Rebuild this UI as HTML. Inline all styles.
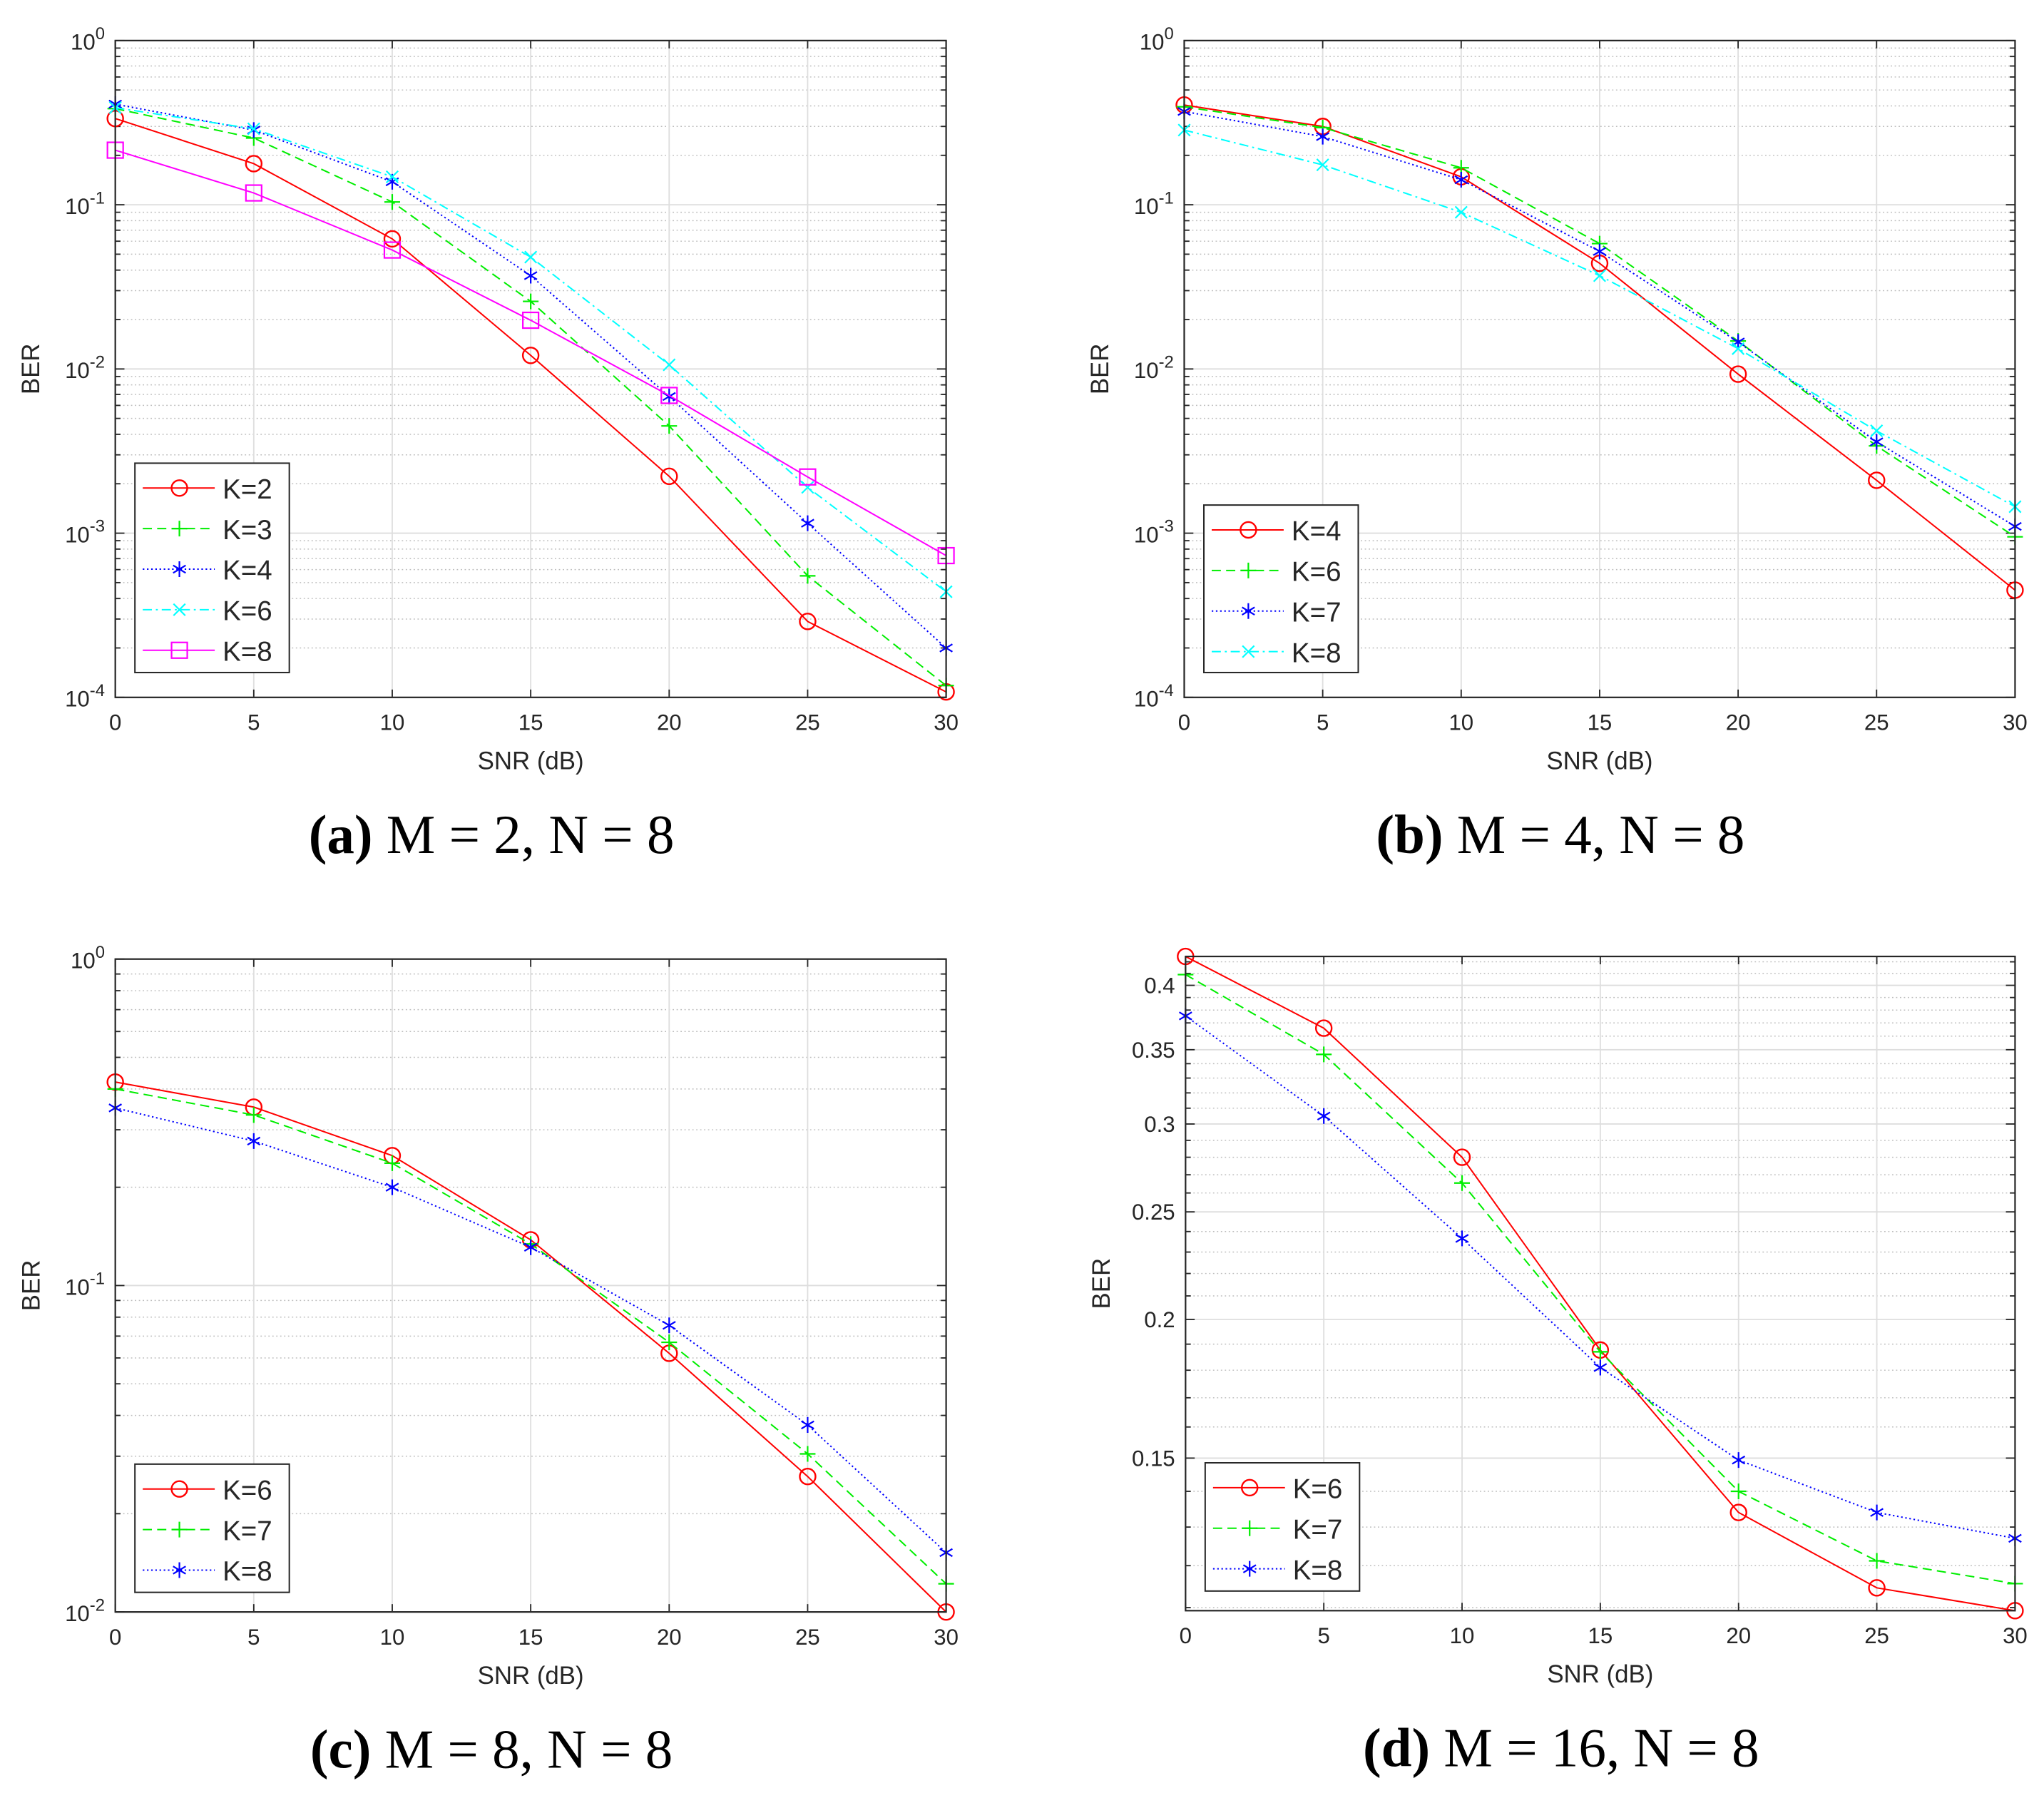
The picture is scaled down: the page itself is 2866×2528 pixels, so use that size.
<!DOCTYPE html>
<html><head><meta charset="utf-8"><style>
html,body{margin:0;padding:0;background:#fff;}
svg{display:block;}
text{font-family:"Liberation Sans",sans-serif;fill:#262626;}
.cap{font-family:"Liberation Serif",serif;fill:#000;}
</style></head><body>
<svg id="fig" width="2866" height="2528" viewBox="0 0 1562 1378" xmlns="http://www.w3.org/2000/svg"></svg>
<script>
const snr = [0,5,10,15,20,25,30];
// panel a (M=2)
const aLabels = ['K=2','K=3','K=4','K=6','K=8'];
const aK2 = [0.335,0.178,0.062,0.0121,0.00222,0.00029,0.000108];
const aK3 = [0.385,0.255,0.104,0.0258,0.0045,0.00055,0.000118];
const aK4 = [0.41,0.285,0.138,0.037,0.0068,0.00115,0.0002];
const aK6 = [0.39,0.29,0.148,0.048,0.0106,0.0019,0.00044];
const aK8 = [0.215,0.118,0.053,0.0198,0.0069,0.0022,0.00073];
// panel b (M=4)
const bLabels = ['K=4','K=6','K=7','K=8'];
const bK4 = [0.405,0.3,0.148,0.044,0.0093,0.0021,0.00045];
const bK6 = [0.395,0.295,0.168,0.058,0.0148,0.0034,0.00095];
const bK7 = [0.37,0.26,0.142,0.052,0.0146,0.0036,0.0011];
const bK8 = [0.285,0.175,0.09,0.037,0.0133,0.0042,0.00145];
// panel c (M=8)
const cLabels = ['K=6','K=7','K=8'];
const cK6 = [0.42,0.352,0.25,0.138,0.062,0.026,0.01];
const cK7 = [0.4,0.333,0.237,0.134,0.067,0.0305,0.0122];
const cK8 = [0.35,0.277,0.2,0.131,0.0755,0.0374,0.0152];
// panel d (M=16)
const dLabels = ['K=6','K=7','K=8'];
const dK6 = [0.4247,0.366,0.28,0.1877,0.134,0.1146,0.1093];
const dK7 = [0.409,0.3466,0.2654,0.187,0.14,0.1212,0.1156];
const dK8 = [0.3754,0.305,0.2366,0.181,0.1494,0.134,0.127];
const dTicks = [0.15,0.2,0.25,0.3,0.35,0.4];
const dTickLabels = ['0.15','0.2','0.25','0.3','0.35','0.4'];
const xTicks = [0,5,10,15,20,25,30];
const captionsBold = ['(a)','(b)','(c)','(d)'];
const captionsRest = [' M = 2, N = 8',' M = 4, N = 8',' M = 8, N = 8',' M = 16, N = 8'];

const NS='http://www.w3.org/2000/svg';
const svg=document.getElementById('fig');
function mk(tag,attrs,parent){const e=document.createElementNS(NS,tag);for(const k in attrs)e.setAttribute(k,attrs[k]);(parent||svg).appendChild(e);return e;}

const styles=[
 {c:'#ff0000',d:'',m:'o'},{c:'#00ee00',d:'7,4',m:'+'},{c:'#0000ff',d:'1.2,2',m:'*'},{c:'#00ffff',d:'7,3,1.5,3',m:'x'},{c:'#ff00ff',d:'',m:'s'}];
const stylesB=[styles[0],styles[1],styles[2],styles[3]];

function marker(g,type,x,y,col){
  const r=6;let e;
  if(type==='o'){e=mk('circle',{cx:x,cy:y,r:r,fill:'none',stroke:col,'stroke-width':1.3},g);}
  else if(type==='s'){e=mk('rect',{x:x-r,y:y-r,width:2*r,height:2*r,fill:'none',stroke:col,'stroke-width':1.2},g);}
  else if(type==='+'){e=mk('path',{d:`M${x-r} ${y}H${x+r}M${x} ${y-r}V${y+r}`,stroke:col,'stroke-width':1.2,fill:'none'},g);}
  else if(type==='x'){const q=r*0.75;e=mk('path',{d:`M${x-q} ${y-q}L${x+q} ${y+q}M${x-q} ${y+q}L${x+q} ${y-q}`,stroke:col,'stroke-width':1.2,fill:'none'},g);}
  else {const q=r*0.8;e=mk('path',{d:`M${x} ${y-r}V${y+r}M${x-q} ${y-q*0.6}L${x+q} ${y+q*0.6}M${x-q} ${y+q*0.6}L${x+q} ${y-q*0.6}`,stroke:col,'stroke-width':1.2,fill:'none'},g);}
  
  
}

function panel(p){
  const g=mk('g',{});
  
  
  const X=v=>p.x0+(v-0)/(30-0)*(p.x1-p.x0);
  const lmin=Math.log10(p.ymin),lmax=Math.log10(p.ymax);
  const Y=v=>p.y1-(Math.log10(v)-lmin)/(lmax-lmin)*(p.y1-p.y0);
  p.minor.forEach(v=>{const y=Y(v);if(y<p.y0-0.5||y>p.y1+0.5)return;
    const l=mk('line',{x1:p.x0,x2:p.x1,y1:y,y2:y,stroke:'#bdbdbd','stroke-width':0.8,'stroke-dasharray':'1,2'},g);
    
    
    mk('line',{x1:p.x0,x2:p.x0+4,y1:y,y2:y,stroke:'#262626','stroke-width':1},g);
    mk('line',{x1:p.x1,x2:p.x1-4,y1:y,y2:y,stroke:'#262626','stroke-width':1},g);
  });
  xTicks.forEach(v=>{const x=X(v);
    const l=mk('line',{x1:x,x2:x,y1:p.y0,y2:p.y1,stroke:'#dedede','stroke-width':1},g);
    
    
    mk('line',{x1:x,x2:x,y1:p.y1,y2:p.y1-6,stroke:'#262626','stroke-width':1},g);
    mk('line',{x1:x,x2:x,y1:p.y0,y2:p.y0+6,stroke:'#262626','stroke-width':1},g);
    const t=mk('text',{x:x,y:p.y1+25,'font-size':17,'text-anchor':'middle'},g);t.textContent=v;
    
    
  });
  p.major.forEach((v,i)=>{const y=Y(v);
    const l=mk('line',{x1:p.x0,x2:p.x1,y1:y,y2:y,stroke:'#dedede','stroke-width':1},g);
    
    
    mk('line',{x1:p.x0,x2:p.x0+7,y1:y,y2:y,stroke:'#262626','stroke-width':1},g);
    mk('line',{x1:p.x1,x2:p.x1-7,y1:y,y2:y,stroke:'#262626','stroke-width':1},g);
    let t;
    if(p.decade){t=mk('text',{x:p.x0-8,y:y+7,'font-size':17,'text-anchor':'end'},g);
      const a=mk('tspan',{},t);a.textContent='10';const b=mk('tspan',{dy:-8,'font-size':13},t);b.textContent=String(Math.round(Math.log10(v)));}
    else{t=mk('text',{x:p.x0-8,y:y+6,'font-size':17,'text-anchor':'end'},g);t.textContent=p.labels[i];}
    
    
  });
  p.series.forEach((s,si)=>{const st=p.styles[si];
    const pts=snr.map((x,i)=>X(x)+','+Y(s[i])).join(' ');
    const pl=mk('polyline',{points:pts,fill:'none',stroke:st.c,'stroke-width':1.1,'stroke-dasharray':st.d},g);
    
    
    snr.forEach((x,i)=>marker(g,st.m,X(x),Y(s[i]),st.c));
  });
  const bx=mk('rect',{x:p.x0,y:p.y0,width:p.x1-p.x0,height:p.y1-p.y0,fill:'none',stroke:'#262626','stroke-width':1.2},g);
  
  
  const xl=mk('text',{x:(p.x0+p.x1)/2,y:p.y1+55,'font-size':19,'text-anchor':'middle'},g);xl.textContent='SNR (dB)';
  
  
  const yc=(p.y0+p.y1)/2, yx=p.x0-58;
  const yl=mk('text',{x:yx,y:yc,'font-size':19,'text-anchor':'middle',transform:`rotate(-90 ${yx} ${yc})`},g);yl.textContent='BER';
  
  
  const L=p.legBox;
  const lg=mk('g',{},g);
  
  
  mk('rect',{x:L.x,y:L.y,width:L.w,height:L.h,fill:'#fff',stroke:'#262626','stroke-width':1.1},lg);
  p.leg.forEach((name,i)=>{const st=p.styles[i];const y=L.y+19+i*31;
    const e=mk('g',{},lg);
    
    
    mk('line',{x1:L.x+6,x2:L.x+61,y1:y,y2:y,stroke:st.c,'stroke-width':1.1,'stroke-dasharray':st.d},e);
    marker(e,st.m,L.x+34,y,st.c);
    const t=mk('text',{x:L.x+67,y:y+8,'font-size':21,fill:'#000'},e);t.textContent=name;
  });
  const c=mk('text',{x:(p.x0+p.x1)/2-30,y:p.y1+119,'font-size':42,'text-anchor':'middle',class:'cap'},g);
  
  
  const b=mk('tspan',{'font-weight':'bold'},c);b.textContent=p.cap[0];
  const r=mk('tspan',{},c);r.textContent=p.cap[1];
}
function decMinor(a,b){const r=[];for(let e=a;e<b;e++)for(let k=2;k<=9;k++)r.push(k*Math.pow(10,e));return r;}
const dMinor=[];for(let k=11;k<=42;k++){if(k%5!==0)dMinor.push(k/100);}

panel({name:'panel-a',x0:88,x1:723,y0:31,y1:533,ymin:1e-4,ymax:1,decade:true,major:[1e-4,1e-3,1e-2,1e-1,1],minor:decMinor(-4,0),
  series:[aK2,aK3,aK4,aK6,aK8],styles:styles,leg:aLabels,legBox:{x:103,y:354,w:118,h:160},cap:[captionsBold[0],captionsRest[0]]});
panel({name:'panel-b',x0:905,x1:1540,y0:31,y1:533,ymin:1e-4,ymax:1,decade:true,major:[1e-4,1e-3,1e-2,1e-1,1],minor:decMinor(-4,0),
  series:[bK4,bK6,bK7,bK8],styles:stylesB,leg:bLabels,legBox:{x:920,y:386,w:118,h:128},cap:[captionsBold[1],captionsRest[1]]});
panel({name:'panel-c',x0:88,x1:723,y0:733,y1:1232,ymin:1e-2,ymax:1,decade:true,major:[1e-2,1e-1,1],minor:decMinor(-2,0),
  series:[cK6,cK7,cK8],styles:styles,leg:cLabels,legBox:{x:103,y:1119,w:118,h:98},cap:[captionsBold[2],captionsRest[2]]});
panel({name:'panel-d',x0:906,x1:1540,y0:731,y1:1231,ymin:0.1093,ymax:0.4247,decade:false,major:dTicks,labels:dTickLabels,minor:dMinor,
  series:[dK6,dK7,dK8],styles:styles,leg:dLabels,legBox:{x:921,y:1118,w:118,h:98},cap:[captionsBold[3],captionsRest[3]]});
</script>
</body></html>
